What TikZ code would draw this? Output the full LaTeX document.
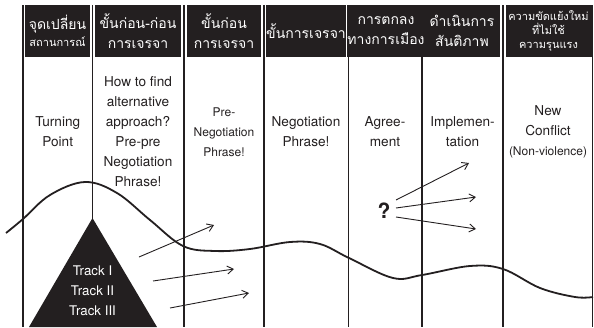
\documentclass[tikz,border=0pt]{standalone}
\usepackage{fontspec}
\setmainfont{TeX Gyre Heros}
\newfontfamily\thaifont[Script=Thai]{Loma}
\usetikzlibrary{arrows.meta, positioning}
\definecolor{ink}{HTML}{231F20}

\tikzset{
  head/.style={fill=ink, text=white, minimum height=52pt, inner sep=0pt, align=center,
    font=\thaifont\fontsize{14}{20}\selectfont},
  small/.style={font=\thaifont\fontsize{11}{14}\selectfont},
  phase/.style={align=center, text=ink, font=\fontsize{13.6}{20}\selectfont},
  move/.style={-{Straight Barb[length=6pt,width=8pt]}, line width=0.9pt, ink}
}

\begin{document}
\begin{tikzpicture}[x=1pt, y=-1pt]
\useasboundingbox (0,0) rectangle (594,327);

% column lines
\foreach \x in {23,92.5,184,264,348.5,422,503,592.5}
  \draw[line width=1.6pt, ink] (\x,5) -- (\x,327);

% header row
\node[head, minimum width=65pt] (h1) at (57.5,31) {จุดเปลี่ยน\\[-3pt]{\fontsize{11}{14}\selectfont สถานการณ์}};
\node[head, minimum width=86.5pt] (h2) at (138,31) {ขั้นก่อน-ก่อน\\การเจรจา};
\node[head, minimum width=74.5pt] (h3) at (224,31) {ขั้นก่อน\\การเจรจา};
\node[head, minimum width=79.5pt] (h4) at (306,31) {ขั้นการเจรจา};
\node[head, minimum width=68.5pt] (h5) at (386,31) {การตกลง\\ทางการเมือง};
\node[head, minimum width=75.5pt] (h6) at (462,31) {ดำเนินการ\\สันติภาพ};
\node[head, small, minimum width=86pt] (h7) at (548.5,31) {ความขัดแย้งใหม่\\ที่ไม่ใช้\\ความรุนแรง};

% phases
\node[phase] (p1) at (57.75,132) {Turning\\Point};
\node[phase] (p2) at (138,132) {How to find\\alternative\\approach?\\Pre-pre\\Negotiation\\Phrase!};
\node[phase, font=\fontsize{12}{20}\selectfont] (p3) at (224,132) {Pre-\\Negotiation\\Phrase!};
\node[phase] (p4) at (306,132) {Negotiation\\Phrase!};
\node[phase] (p5) at (385,132) {Agree-\\ment};
\node[phase] (p6) at (462.5,132) {Implemen-\\tation};
\node[phase] (p7) at (548,132) {New\\Conflict\\{\fontsize{12}{20}\selectfont(Non-violence)}};

% conflict curve
\draw[line width=1.8pt, ink] plot[smooth, tension=0.6] coordinates {(6,233) (23,219) (50,195) (85,182)
  (117,193) (150,220) (183,246) (215,251) (250,249) (290,242) (320,244) (349,258) (393,278)
  (422,275) (470,266) (503,269) (540,288) (575,297) (593,297)};

% tracks
\coordinate (apex) at (92.5,218);
\fill[ink] (29,327) -- (apex) -- (157,327) -- cycle;
\node[phase, text=white, font=\fontsize{13.3}{20}\selectfont] (tr) at (92.5,290.7) {Track I\\Track II\\Track III};

\coordinate (t1) at (139,257);
\coordinate (t2) at (153,281);
\coordinate (t3) at (170,308);
\coordinate (e1) at (214,225);
\coordinate (e2) at (234,269);
\coordinate (e3) at (249,293);
\draw[move] (t1) -- (e1);
\draw[move] (t2) -- (e2);
\draw[move] (t3) -- (e3);

% outcome
\node[text=ink, font=\bfseries\fontsize{21}{21}\selectfont] (q) at (384,211) {?};
\coordinate (q1) at (396,200);
\coordinate (q2) at (396,208);
\coordinate (q3) at (396,217);
\coordinate (o1) at (469,163);
\coordinate (o2) at (476,197);
\coordinate (o3) at (476,229);
\draw[move] (q1) -- (o1);
\draw[move] (q2) -- (o2);
\draw[move] (q3) -- (o3);

\end{tikzpicture}
\end{document}
